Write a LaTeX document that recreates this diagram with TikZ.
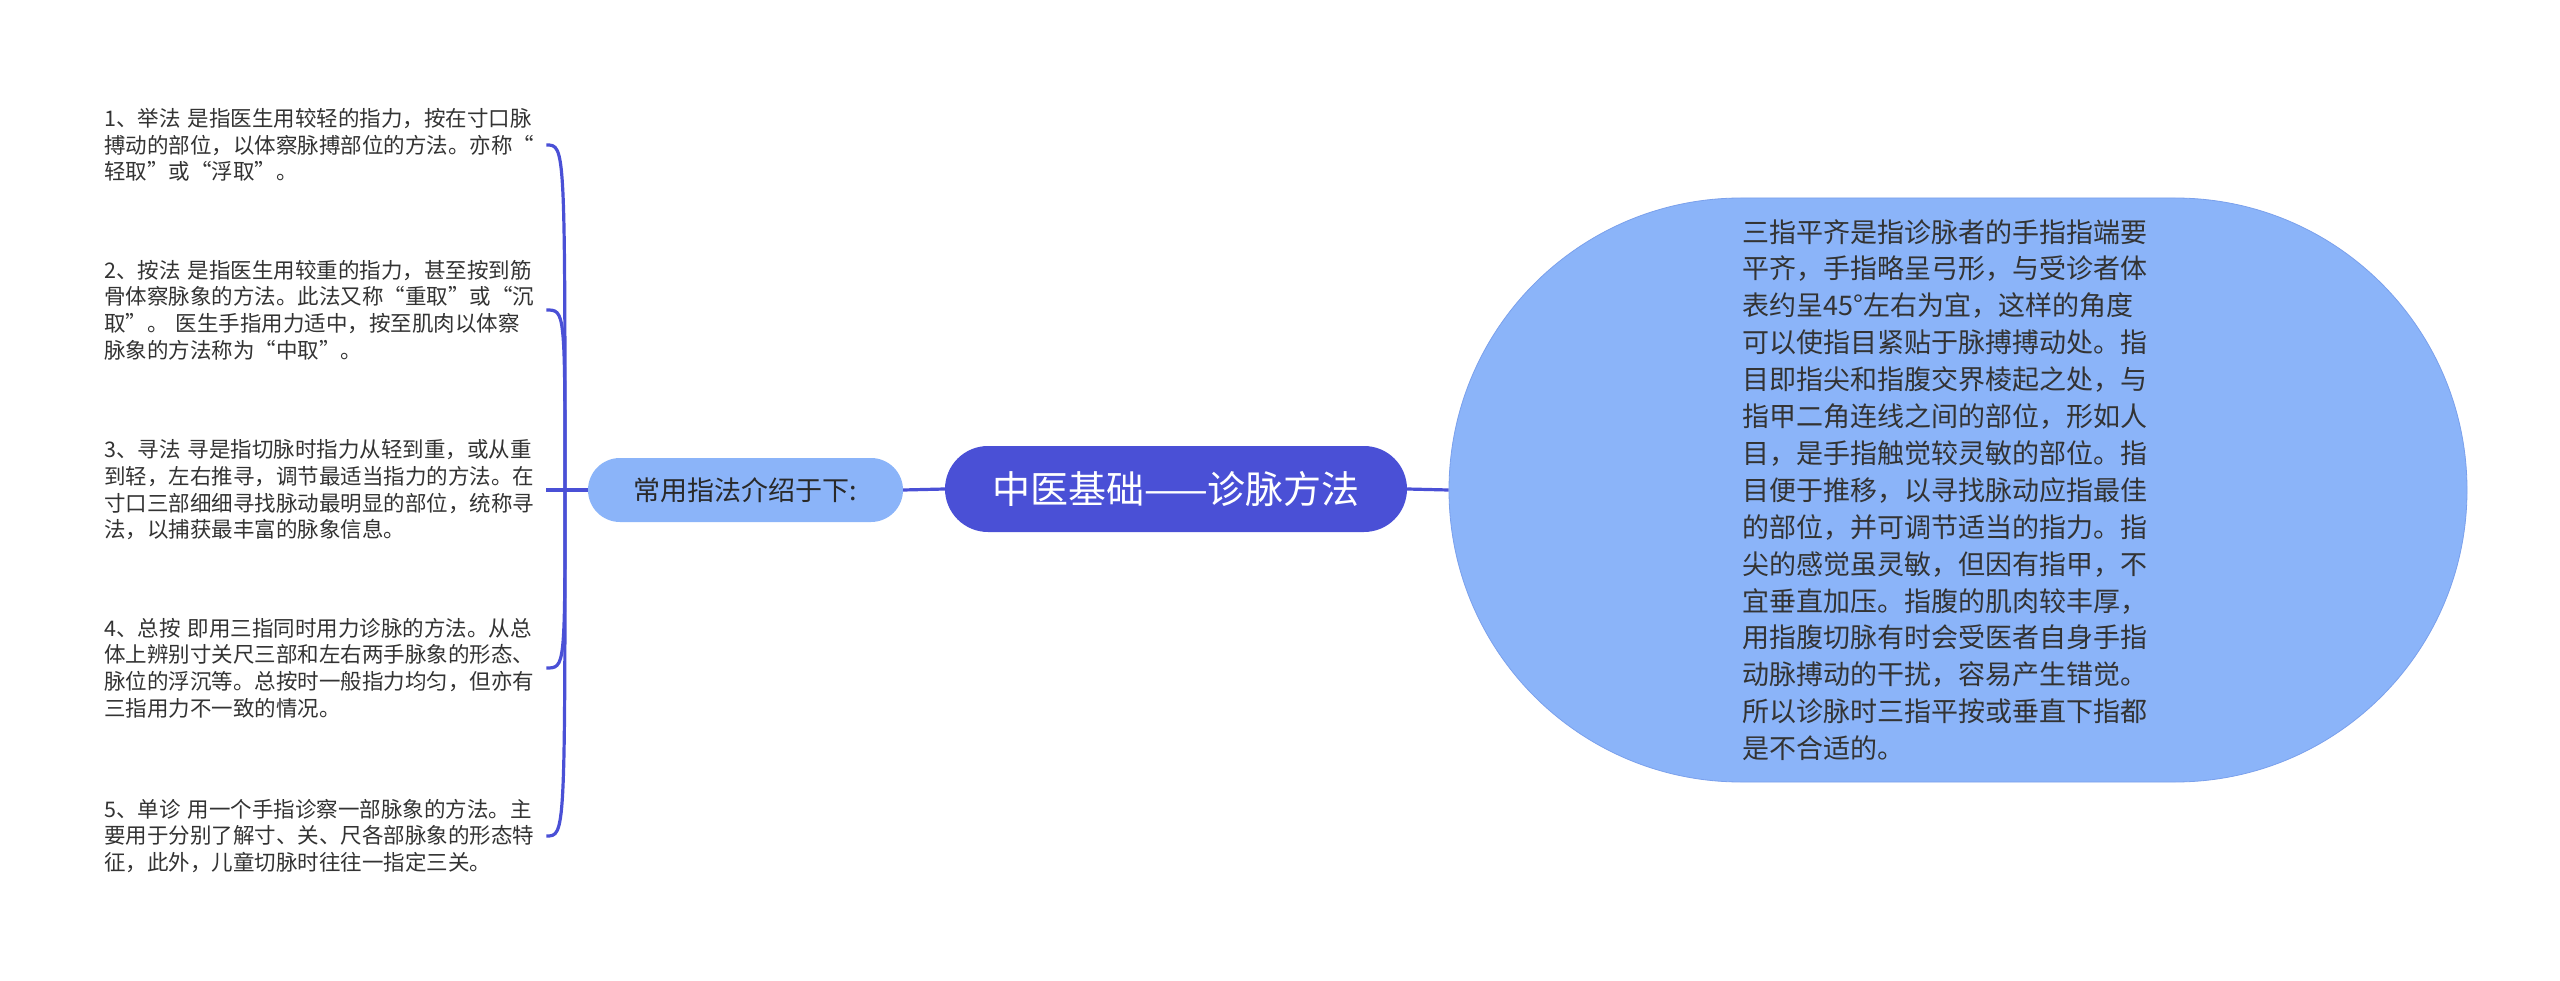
\documentclass[tikz,border=0pt]{standalone}
\usepackage{fontspec}
\setmainfont{Noto Sans CJK SC}
\usetikzlibrary{shapes.misc}
\definecolor{mainblue}{RGB}{74,80,214}
\definecolor{lightblue}{RGB}{139,180,249}
\definecolor{edgeblue}{RGB}{122,160,236}
\definecolor{txt}{RGB}{51,51,51}
\begin{document}
\begin{tikzpicture}[x=1pt,y=-1pt,
  conn/.style={draw=mainblue,line width=3.2pt},
  leaf/.style={anchor=west,inner sep=0pt,text width=442pt,align=left,text=txt,font=\fontsize{21.5}{26.6}\selectfont},
  pill/.style={rounded rectangle,inner sep=0pt}]
\useasboundingbox[fill=white] (0,0) rectangle (2560,981);

\node[pill,fill=mainblue,minimum width=462pt,minimum height=86pt,text=white,font=\fontsize{38}{40}\selectfont] (root) at (1176,489) {中医基础——诊脉方法};

\node[pill,fill=lightblue,minimum width=315pt,minimum height=64pt,text=txt!80!black,font=\fontsize{27}{30}\selectfont] (methods) at (745.5,490) {常用指法介绍于下:};

\node[pill,fill=lightblue,draw=edgeblue,line width=0.8pt,minimum width=1018pt,minimum height=584pt] (detail) at (1958,490) {};
\node[anchor=west,inner sep=0pt,align=left,text=txt,font=\fontsize{27}{36.9}\selectfont] (detailtext) at (1742,490) {三指平齐是指诊脉者的手指指端要\\平齐，手指略呈弓形，与受诊者体\\表约呈45°左右为宜，这样的角度\\可以使指目紧贴于脉搏搏动处。指\\目即指尖和指腹交界棱起之处，与\\指甲二角连线之间的部位，形如人\\目，是手指触觉较灵敏的部位。指\\目便于推移，以寻找脉动应指最佳\\的部位，并可调节适当的指力。指\\尖的感觉虽灵敏，但因有指甲，不\\宜垂直加压。指腹的肌肉较丰厚，\\用指腹切脉有时会受医者自身手指\\动脉搏动的干扰，容易产生错觉。\\所以诊脉时三指平按或垂直下指都\\是不合适的。};

\node[leaf] (c1) at (104,145) {1、举法 是指医生用较轻的指力，按在寸口脉\\搏动的部位，以体察脉搏部位的方法。亦称“\\轻取”或“浮取”。};
\node[leaf] (c2) at (104,310) {2、按法 是指医生用较重的指力，甚至按到筋\\骨体察脉象的方法。此法又称“重取”或“沉\\取”。 医生手指用力适中，按至肌肉以体察\\脉象的方法称为“中取”。};
\node[leaf] (c3) at (104,490) {3、寻法 寻是指切脉时指力从轻到重，或从重\\到轻，左右推寻，调节最适当指力的方法。在\\寸口三部细细寻找脉动最明显的部位，统称寻\\法，以捕获最丰富的脉象信息。};
\node[leaf] (c4) at (104,668) {4、总按 即用三指同时用力诊脉的方法。从总\\体上辨别寸关尺三部和左右两手脉象的形态、\\脉位的浮沉等。总按时一般指力均匀，但亦有\\三指用力不一致的情况。};
\node[leaf] (c5) at (104,836) {5、单诊 用一个手指诊察一部脉象的方法。主\\要用于分别了解寸、关、尺各部脉象的形态特\\征，此外，儿童切脉时往往一指定三关。};

\coordinate (J) at (565,490);

\draw[conn] (root.east) -- (detail.west);
\draw[conn] (root.west) -- (methods.east);
\draw[conn] (methods.west) -- (J);
\draw[conn] (J) -- (c3.east);
\draw[conn] (J) .. controls (J |- c1.east) .. (c1.east);
\draw[conn] (J) .. controls (J |- c2.east) .. (c2.east);
\draw[conn] (J) .. controls (J |- c4.east) .. (c4.east);
\draw[conn] (J) .. controls (J |- c5.east) .. (c5.east);
\end{tikzpicture}
\end{document}
